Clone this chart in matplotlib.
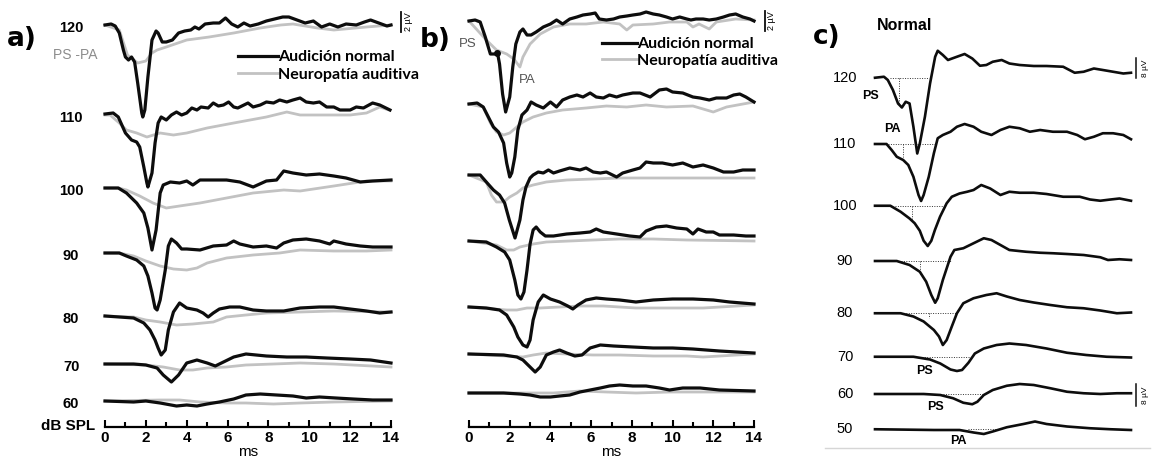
import matplotlib.pyplot as plt
import numpy as np

plt.rcParams['font.family'] = ['Liberation Sans', 'DejaVu Sans']

W, H = 1154, 457

levels_ab = [120, 110, 100, 90, 80, 70, 60]
levels_c = [120, 110, 100, 90, 80, 70, 60, 50]
ticks_ms = [0, 2, 4, 6, 8, 10, 12, 14]

# panel a) traces, (ms, uV) relative to baseline
a_norm_120 = [(0, 0), (0.3, 0.1), (0.5, -0.1), (0.7, -0.8), (0.9, -2.5), (1.0, -3.2), (1.15, -3.5), (1.3, -3.2), (1.45, -3.7),
              (1.6, -5.8), (1.8, -8.8), (1.85, -9.2), (1.95, -8.5), (2.1, -5.2), (2.3, -1.5), (2.5, -0.6), (2.6, -0.8),
              (2.8, -1.7), (3.0, -1.7), (3.3, -1.5), (3.6, -0.8), (3.9, -0.6), (4.2, -0.5), (4.4, -0.2), (4.6, -0.4),
              (4.9, 0.1), (5.3, 0.2), (5.6, 0.2), (5.9, 0.7), (6.2, 0.1), (6.5, -0.2), (6.8, 0.2), (7.1, -0.1), (7.5, 0.1),
              (7.9, 0.4), (8.3, 0.6), (8.7, 0.8), (9.0, 0.8), (9.4, 0.5), (9.8, 0.2), (10.2, 0.4), (10.6, -0.2), (11.0, 0.1),
              (11.4, -0.2), (11.8, 0.1), (12.3, 0.0), (12.7, 0.3), (13.0, 0.5), (13.4, 0.2), (13.8, -0.1), (14.0, 0.0)]
a_neuro_120 = [(0, 0), (0.7, -0.5), (1.1, -3.0), (1.6, -3.8), (2.0, -3.6), (2.3, -2.8), (2.55, -2.5), (3.0, -2.2), (4.0, -1.5),
               (5.1, -1.2), (6.3, -0.8), (7.6, -0.3), (8.6, 0.0), (9.2, 0.1), (10.4, -0.3), (11.2, -0.5), (12.8, -0.2), (14.0, 0.0)]
a_norm_110 = [(0, 0.1), (0.4, 0.2), (0.65, -0.2), (1.0, -1.8), (1.3, -2.5), (1.55, -2.7), (1.7, -3.2), (1.9, -5.2), (2.05, -6.8),
              (2.1, -7.2), (2.3, -5.8), (2.45, -2.8), (2.6, -0.8), (2.75, -0.2), (3.0, -0.5), (3.25, 0.0), (3.5, 0.3),
              (3.75, 0.0), (4.0, 0.2), (4.25, 0.7), (4.5, 0.5), (4.7, 0.8), (5.05, 0.7), (5.3, 1.2), (5.55, 0.9), (5.8, 1.0),
              (6.05, 1.3), (6.3, 0.8), (6.5, 0.7), (6.8, 1.0), (7.0, 1.2), (7.25, 0.8), (7.6, 1.0), (7.9, 1.3), (8.25, 1.2),
              (8.55, 1.5), (8.9, 1.3), (9.2, 1.5), (9.55, 1.7), (9.85, 1.3), (10.2, 1.2), (10.5, 1.3), (10.85, 0.8),
              (11.2, 0.8), (11.5, 0.5), (12.0, 0.5), (12.3, 0.8), (12.65, 0.7), (13.1, 1.2), (13.45, 1.0), (13.95, 0.5)]
a_neuro_110 = [(0, 0), (0.25, 0), (0.7, -0.8), (1.05, -1.5), (1.55, -1.8), (2.05, -2.2), (2.7, -1.8), (3.35, -2.0), (4.0, -1.8),
               (5.0, -1.3), (6.3, -0.8), (7.9, -0.2), (8.9, 0.3), (9.55, 0.0), (10.85, 0.0), (12.0, 0.0), (12.8, 0.2),
               (13.45, 0.8), (13.9, 0.5)]
a_norm_100 = [(0, 0), (0.65, 0), (1.05, -0.5), (1.55, -1.5), (1.9, -2.5), (2.1, -4.0), (2.3, -6.2), (2.5, -4.2), (2.7, -0.5),
              (2.85, 0.3), (3.2, 0.6), (3.65, 0.5), (4.0, 0.7), (4.3, 0.3), (4.65, 0.8), (5.3, 0.8), (5.95, 0.8), (6.6, 0.6),
              (7.25, 0.1), (7.9, 0.7), (8.4, 0.8), (8.75, 1.7), (9.2, 1.5), (9.85, 1.3), (10.5, 1.4), (11.2, 1.2),
              (11.8, 1.0), (12.5, 0.6), (13.1, 0.7), (14.0, 0.8)]
a_neuro_100 = [(0, 0), (0.65, 0), (1.05, -0.2), (1.7, -0.8), (2.35, -1.5), (3.0, -2.0), (3.65, -1.8), (4.65, -1.5), (5.95, -1.0),
               (7.25, -0.5), (8.75, -0.2), (9.55, -0.3), (11.2, 0.2), (12.8, 0.7), (14.0, 0.7)]
a_norm_90 = [(0, 0), (0.7, 0), (1.05, -0.3), (1.55, -0.7), (1.9, -1.3), (2.1, -2.3), (2.3, -4.0), (2.45, -5.5), (2.55, -5.7),
             (2.7, -4.7), (2.95, -1.7), (3.1, 0.7), (3.25, 1.4), (3.5, 1.0), (3.75, 0.4), (4.0, 0.4), (4.65, 0.3), (5.3, 0.7),
             (5.95, 0.8), (6.3, 1.2), (6.6, 0.9), (7.25, 0.6), (7.9, 0.7), (8.4, 0.5), (8.75, 1.0), (9.2, 1.3), (9.85, 1.4),
             (10.5, 1.2), (11.0, 0.9), (11.2, 1.2), (11.8, 0.9), (12.5, 0.7), (13.1, 0.6), (14.0, 0.6)]
a_neuro_90 = [(0, 0), (0.7, 0), (1.4, -0.3), (2.0, -0.8), (2.7, -1.3), (3.35, -1.6), (4.0, -1.7), (4.5, -1.5), (5.0, -1.0),
              (5.95, -0.5), (7.25, -0.2), (8.55, 0), (9.55, 0.3), (11.2, 0.2), (12.8, 0.2), (14.0, 0.3)]
a_norm_80 = [(0, 0), (0.7, -0.1), (1.4, -0.2), (1.9, -0.7), (2.2, -1.4), (2.45, -2.4), (2.6, -3.2), (2.75, -3.9), (2.95, -3.4),
             (3.1, -1.4), (3.35, 0.4), (3.65, 1.3), (4.0, 0.8), (4.5, 0.6), (4.8, 0.3), (5.05, -0.1), (5.3, 0.3), (5.6, 0.7),
             (6.1, 0.9), (6.6, 0.9), (7.25, 0.6), (7.9, 0.5), (8.75, 0.5), (9.55, 0.8), (10.5, 0.9), (11.2, 0.9),
             (12.0, 0.7), (12.8, 0.5), (13.45, 0.3), (14.0, 0.4)]
a_neuro_80 = [(0, 0), (1.4, -0.1), (2.0, -0.4), (2.7, -0.6), (3.5, -0.9), (4.3, -0.8), (5.3, -0.6), (5.95, -0.1), (6.9, 0.1),
              (7.9, 0.3), (9.55, 0.4), (11.2, 0.5), (14.0, 0.4)]
a_norm_70 = [(0, 0), (1.4, 0), (2.0, -0.1), (2.55, -0.4), (2.85, -1.1), (3.25, -1.8), (3.6, -1.1), (4.0, 0.1), (4.5, 0.4),
             (5.0, 0.1), (5.4, -0.2), (5.8, 0.2), (6.3, 0.7), (6.9, 1.0), (7.9, 0.8), (8.9, 0.7), (9.85, 0.7), (10.85, 0.6),
             (12.0, 0.5), (13.0, 0.4), (14.0, 0.1)]
a_neuro_70 = [(0, 0), (2.0, -0.1), (2.85, -0.3), (3.65, -0.6), (4.3, -0.6), (5.0, -0.4), (5.95, -0.3), (6.9, -0.1), (8.25, 0),
              (9.55, 0.1), (11.2, 0), (14.0, -0.3)]
a_norm_60 = [(0, 0), (1.4, -0.1), (2.0, 0), (2.7, -0.2), (3.5, -0.5), (4.0, -0.4), (4.5, -0.5), (5.0, -0.3), (5.6, -0.1),
             (6.3, 0.2), (6.9, 0.6), (7.6, 0.7), (8.4, 0.6), (9.2, 0.5), (9.85, 0.3), (10.5, 0.4), (11.3, 0.3), (12.15, 0.2),
             (13.1, 0.1), (14.0, 0.1)]
a_neuro_60 = [(0, 0), (2.7, 0.1), (3.65, 0.1), (4.65, -0.1), (5.95, -0.2), (6.9, -0.2), (8.25, -0.3), (9.55, -0.2),
              (11.2, -0.1), (14.0, 0)]

# panel b) traces
b_norm_120 = [(0, 0), (0.3, 0.1), (0.55, -0.1), (0.8, -1.6), (1.05, -3.3), (1.3, -3.3), (1.4, -3.2), (1.5, -4.3), (1.65, -7.3),
              (1.8, -9.1), (2.0, -7.6), (2.15, -4.6), (2.3, -2.3), (2.5, -1.1), (2.65, -0.8), (2.85, -1.4), (3.05, -1.4),
              (3.3, -1.1), (3.65, -0.6), (4.0, -0.3), (4.3, 0.1), (4.6, -0.3), (4.95, 0.2), (5.3, 0.4), (5.6, 0.6),
              (5.95, 0.7), (6.2, 0.8), (6.4, 0.2), (6.75, 0.1), (7.1, 0.2), (7.4, 0.4), (7.75, 0.5), (8.05, 0.6), (8.4, 0.7),
              (8.7, 0.9), (9.05, 0.7), (9.35, 0.6), (9.7, 0.4), (10.0, 0.2), (10.35, 0.4), (10.7, 0.2), (10.9, 0.1),
              (11.15, 0.2), (11.5, 0.2), (11.8, 0.1), (12.15, 0.2), (12.5, 0.4), (12.8, 0.6), (13.1, 0.7), (13.45, 0.4),
              (13.8, 0.2), (14.0, 0)]
b_neuro_120 = [(0, 0), (0.85, -1.9), (1.35, -2.9), (1.85, -3.3), (2.2, -3.8), (2.5, -4.6), (2.65, -3.6), (3.0, -2.3), (3.5, -1.3),
               (4.15, -0.6), (4.95, -0.3), (5.75, -0.3), (6.6, -0.1), (7.4, -0.3), (7.75, -0.9), (8.05, -0.4), (9.05, -0.3),
               (9.85, -0.1), (10.7, -0.1), (11.0, -0.6), (11.3, -0.3), (11.8, -0.8), (12.15, -0.1), (13.1, 0.2), (14.0, 0.1)]
b_norm_110 = [(0, 0), (0.4, 0.1), (0.7, -0.3), (0.95, -1.3), (1.2, -2.3), (1.45, -2.8), (1.7, -3.9), (1.85, -5.9), (2.0, -7.3),
              (2.1, -6.9), (2.25, -5.3), (2.4, -2.6), (2.6, -1.1), (2.85, -0.6), (3.05, 0.2), (3.3, -0.1), (3.65, -0.4),
              (4.0, 0.2), (4.3, -0.3), (4.6, 0.4), (4.95, 0.7), (5.3, 0.9), (5.6, 0.7), (5.95, 1.1), (6.25, 0.7), (6.6, 0.6),
              (6.9, 0.9), (7.25, 0.7), (7.55, 0.9), (8.05, 1.1), (8.4, 1.1), (8.9, 0.7), (9.35, 1.4), (9.7, 1.5), (10.0, 1.2),
              (10.5, 1.1), (11.0, 0.7), (11.35, 0.6), (11.8, 0.4), (12.15, 0.6), (12.65, 0.6), (13.0, 0.9), (13.3, 1.0),
              (13.6, 0.7), (14.0, 0.2)]
b_neuro_110 = [(0, 0), (0.7, -0.3), (1.05, -1.9), (1.35, -2.8), (1.7, -3.1), (2.0, -2.9), (2.35, -2.3), (2.65, -1.8),
               (3.15, -1.3), (3.8, -0.9), (4.6, -0.6), (5.75, -0.4), (6.75, -0.2), (7.75, -0.3), (8.7, -0.1), (9.7, -0.3),
               (11.0, -0.2), (12.0, -0.8), (12.65, -0.3), (14.0, 0.2)]
b_norm_100 = [(0, 0), (0.55, 0), (0.85, -0.7), (1.2, -1.5), (1.5, -2.0), (1.75, -2.8), (1.98, -4.5), (2.26, -6.3), (2.5, -4.5),
              (2.65, -2.5), (2.8, -1.2), (3.0, -0.3), (3.15, 0), (3.4, 0.3), (3.65, 0.2), (3.9, 0.5), (4.15, 0.2), (4.45, 0.4),
              (4.95, 0.7), (5.45, 0.5), (5.75, 0.7), (6.1, 0.3), (6.45, 0.2), (6.75, 0.3), (7.25, -0.2), (7.55, 0.2),
              (8.05, 0.5), (8.4, 0.7), (8.7, 1.3), (9.05, 1.2), (9.5, 1.2), (10.0, 1.0), (10.5, 1.2), (11.0, 0.8),
              (11.5, 1.0), (12.0, 0.7), (12.5, 0.3), (13.0, 0.3), (13.45, 0.5), (14.0, 0.5)]
b_neuro_100 = [(0, 0), (0.85, -0.7), (1.1, -2.0), (1.35, -2.7), (1.7, -2.7), (2.0, -2.2), (2.35, -1.8), (2.65, -1.3),
               (3.15, -1.0), (3.8, -0.7), (4.8, -0.5), (6.1, -0.4), (7.4, -0.3), (9.05, -0.3), (10.7, -0.3), (12.3, -0.3),
               (14.0, -0.3)]
b_norm_90 = [(0, 0), (0.85, -0.1), (1.35, -0.6), (1.75, -1.1), (2.0, -1.9), (2.25, -3.9), (2.4, -5.4), (2.55, -5.8), (2.7, -5.1),
             (2.85, -2.9), (3.0, -0.3), (3.15, 1.1), (3.3, 1.4), (3.5, 0.9), (3.75, 0.5), (4.15, 0.5), (4.8, 0.7), (5.45, 0.8),
             (5.95, 0.9), (6.25, 1.2), (6.6, 0.9), (7.25, 0.7), (7.9, 0.5), (8.4, 0.4), (8.7, 1.0), (9.2, 1.4), (9.7, 1.5),
             (10.2, 1.3), (10.7, 1.2), (11.0, 0.7), (11.25, 1.2), (11.65, 0.9), (12.0, 0.9), (12.3, 0.6), (13.0, 0.6),
             (13.6, 0.5), (14.0, 0.5)]
b_neuro_90 = [(0, 0), (1.35, -0.4), (1.85, -0.9), (2.2, -0.9), (2.5, -0.6), (3.15, -0.3), (3.8, -0.1), (4.95, 0), (6.1, 0.1),
              (7.4, 0.2), (9.05, 0.2), (10.7, 0.1), (14.0, 0)]
b_norm_80 = [(0, 0), (0.85, -0.1), (1.5, -0.3), (1.85, -0.8), (2.2, -2.0), (2.4, -3.0), (2.65, -3.8), (2.85, -4.0), (3.0, -3.3),
             (3.15, -1.3), (3.4, 0.5), (3.65, 1.2), (4.0, 0.8), (4.45, 0.5), (4.85, 0.1), (5.1, -0.2), (5.35, 0.2), (5.75, 0.7),
             (6.25, 0.9), (6.75, 0.8), (7.4, 0.7), (8.2, 0.5), (9.05, 0.7), (10.0, 0.8), (11.0, 0.8), (12.0, 0.7),
             (12.8, 0.5), (14.0, 0.3)]
b_neuro_80 = [(0, 0), (1.85, -0.3), (2.35, -0.3), (2.85, -0.1), (3.5, -0.1), (4.45, 0), (5.45, 0.1), (6.6, 0.1), (8.2, -0.1),
              (9.85, -0.1), (11.5, -0.1), (14.0, 0.2)]
b_norm_70 = [(0, 0), (1.7, -0.1), (2.35, -0.3), (2.65, -0.6), (3.0, -1.3), (3.25, -1.8), (3.5, -1.3), (3.8, -0.1), (4.15, 0.2),
             (4.45, 0.4), (4.8, 0.1), (5.2, -0.2), (5.55, -0.1), (5.95, 0.6), (6.45, 0.9), (7.1, 0.8), (8.05, 0.7),
             (9.05, 0.6), (10.0, 0.6), (11.0, 0.5), (12.3, 0.3), (14.0, 0.1)]
b_neuro_70 = [(0, 0), (2.65, -0.3), (3.15, -0.1), (3.8, 0.1), (4.8, 0), (6.1, -0.1), (7.4, -0.1), (9.05, -0.2), (10.7, -0.2),
              (11.5, -0.3), (14.0, 0)]
b_norm_60 = [(0, 0), (1.7, 0), (2.5, -0.1), (3.0, -0.2), (3.5, -0.4), (4.0, -0.4), (4.45, -0.3), (4.95, -0.2), (5.45, 0.1),
             (5.95, 0.3), (6.45, 0.5), (6.9, 0.7), (7.4, 0.8), (8.05, 0.7), (8.7, 0.7), (9.35, 0.5), (9.85, 0.3), (10.5, 0.5),
             (11.35, 0.5), (12.3, 0.3), (14.0, 0.2)]
b_neuro_60 = [(0, 0), (4.15, 0), (5.45, 0.2), (6.75, 0.1), (8.2, 0), (9.85, 0.1), (11.5, 0.1), (14.0, 0.1)]
b_ps_ms = 1.37

# panel c) normal hearing
c_120 = [(0, 0), (0.35, 0.4), (0.5, -0.9), (0.7, -4.9), (0.9, -10.3), (1.05, -11.9), (1.2, -9.6), (1.35, -10.3), (1.5, -19.6),
         (1.65, -30.3), (1.75, -26.3), (1.95, -15.6), (2.15, -2.3), (2.35, 8.4), (2.45, 10.8), (2.65, 9.1), (2.85, 7.1),
         (3.2, 8.4), (3.5, 9.5), (3.8, 7.7), (4.1, 4.8), (4.35, 5.1), (4.6, 6.4), (4.95, 7.1), (5.25, 5.7), (5.65, 5.1),
         (6.2, 4.7), (6.7, 4.7), (7.35, 4.4), (7.8, 2.0), (8.15, 2.4), (8.55, 3.7), (8.9, 3.1), (9.3, 2.4), (9.7, 1.7),
         (10.0, 2.0)]
c_110 = [(0, 0), (0.45, 0), (0.65, -2.4), (0.85, -5.1), (1.1, -6.4), (1.3, -8.4), (1.5, -13.1), (1.7, -20.4), (1.8, -22.8),
         (1.9, -20.4), (2.1, -13.1), (2.3, -3.7), (2.45, 2.3), (2.65, 3.6), (2.95, 4.9), (3.2, 6.9), (3.5, 8.0), (3.85, 6.9),
         (4.15, 4.9), (4.55, 3.6), (4.9, 5.6), (5.25, 6.9), (5.65, 6.3), (6.05, 4.9), (6.45, 5.6), (6.95, 4.9), (7.5, 4.9),
         (7.9, 3.6), (8.2, 1.9), (8.55, 2.9), (8.9, 4.3), (9.3, 4.3), (9.7, 3.6), (10.0, 1.9)]
c_100 = [(0, 0), (0.6, 0), (1.0, -2.4), (1.35, -5.1), (1.55, -7.0), (1.75, -10.0), (1.9, -14.0), (2.06, -16.1), (2.2, -14.0),
         (2.34, -9.7), (2.54, -4.4), (2.8, 1.0), (3.0, 3.6), (3.3, 4.9), (3.6, 5.6), (3.85, 6.3), (4.15, 8.3), (4.5, 6.9),
         (4.9, 4.3), (5.25, 5.6), (5.65, 5.2), (6.2, 5.2), (6.7, 4.7), (7.35, 3.6), (8.0, 3.6), (8.4, 2.5), (8.8, 2.0),
         (9.2, 2.5), (9.55, 2.9), (10.0, 2.0)]
c_90 = [(0, 0), (0.85, 0), (1.35, -1.6), (1.75, -4.3), (2.0, -8.3), (2.2, -13.6), (2.35, -16.7), (2.45, -14.9), (2.65, -7.6),
        (2.95, 1.7), (3.1, 4.4), (3.45, 5.1), (3.85, 7.1), (4.25, 9.1), (4.55, 8.4), (4.9, 6.4), (5.25, 4.4), (5.9, 3.7),
        (6.45, 3.3), (6.95, 3.1), (7.5, 2.8), (8.15, 2.4), (8.8, 1.5), (9.1, 0.4), (9.55, 0.7), (10.0, 0.4)]
c_80 = [(0, 0), (1.0, 0), (1.5, -1.3), (1.9, -3.3), (2.3, -6.7), (2.5, -9.3), (2.65, -12.7), (2.8, -10.7), (3.0, -5.3),
        (3.2, 0), (3.45, 4.0), (3.85, 6.0), (4.35, 7.3), (4.75, 8.0), (5.15, 6.7), (5.65, 5.3), (6.2, 4.3), (6.85, 3.3),
        (7.5, 2.4), (8.15, 2.0), (8.8, 1.1), (9.45, 0), (10.0, 0.3)]
c_70 = [(0, 0), (1.5, 0), (2.15, -1.1), (2.55, -2.7), (2.95, -5.1), (3.2, -5.7), (3.4, -5.3), (3.65, -2.4), (3.9, 1.3),
        (4.25, 3.3), (4.75, 4.7), (5.25, 5.3), (5.9, 4.7), (6.7, 3.3), (7.5, 1.6), (8.25, 0.7), (9.05, 0), (10.0, -0.3)]
c_60 = [(0, 0), (1.9, 0), (2.55, -0.4), (3.05, -1.7), (3.45, -3.5), (3.8, -4.1), (4.0, -3.1), (4.25, -0.4), (4.6, 1.6),
        (5.15, 3.3), (5.65, 4.0), (6.2, 3.6), (6.85, 2.3), (7.5, 0.9), (8.15, 0.3), (8.8, 0), (9.45, 0.3), (10.0, 0.3)]
c_50 = [(0, 0), (2.3, -0.3), (3.3, -0.3), (3.85, -1.3), (4.25, -1.9), (4.6, -0.9), (5.15, 0.8), (5.8, 2.1), (6.25, 3.1),
        (6.7, 2.1), (7.5, 1.1), (8.4, 0.4), (9.2, 0), (10.0, -0.3)]
# dotted latency lines (start, end) and amplitude marks (ms, uV)
c_lat = [(0.6, 2.1), (0.5, 2.4), (0.8, 2.65), (1.0, 3.0), (1.0, 3.2), (1.65, 3.8), (2.0, 4.25), (3.65, 4.75)]
c_amp = [(0.95, -10.3), (1.1, -5.1), (1.45, -6.0), (1.75, -5.3), (2.1, -2.0), None, None, None]

a_norm = [a_norm_120, a_norm_110, a_norm_100, a_norm_90, a_norm_80, a_norm_70, a_norm_60]
a_neuro = [a_neuro_120, a_neuro_110, a_neuro_100, a_neuro_90, a_neuro_80, a_neuro_70, a_neuro_60]
b_norm = [b_norm_120, b_norm_110, b_norm_100, b_norm_90, b_norm_80, b_norm_70, b_norm_60]
b_neuro = [b_neuro_120, b_neuro_110, b_neuro_100, b_neuro_90, b_neuro_80, b_neuro_70, b_neuro_60]
c_norm = [c_120, c_110, c_100, c_90, c_80, c_70, c_60, c_50]

# layout: baseline of every trace (uV below the top of the figure)
base_a = [-2.5, -11.5, -18.8, -25.3, -31.6, -36.4, -40.1]
base_b = [-2.1, -10.4, -17.5, -24.1, -30.7, -35.4, -39.3]
base_c = [-31.1, -57.6, -82.3, -104.4, -125.3, -142.7, -157.6, -171.7]

BLACK = '#0d0d0d'
GRAY = '#c2c2c2'
LEG_FONT = {'family': ['Lato', 'DejaVu Sans'], 'weight': 'bold', 'size': 11.5}

fig = plt.figure(figsize=(W / 100, H / 100), dpi=100)


def panel(x0, x1, xlim, px_per_uv):
    ax = fig.add_axes([x0 / W, 0, (x1 - x0) / W, 1])
    ax.set_xlim(xlim)
    ax.set_ylim(-H / px_per_uv, 0)
    ax.patch.set_visible(False)
    for s in ['top', 'right', 'left']:
        ax.spines[s].set_visible(False)
    ax.set_yticks([])
    return ax


def trace(ax, pts, base, **kw):
    t, v = np.array(pts).T
    return ax.plot(t, v + base, clip_on=False, solid_joinstyle='round', **kw)[0]


def time_axis(ax, y):
    ax.spines['bottom'].set_position(('data', y))
    ax.spines['bottom'].set_linewidth(1.6)
    ax.set_xticks(ticks_ms)
    ax.set_xticks(np.arange(1, 14, 2), minor=True)
    ax.tick_params(axis='x', which='both', direction='in', width=1.5, pad=3)
    ax.tick_params(axis='x', which='major', length=5, labelsize=11)
    ax.tick_params(axis='x', which='minor', length=3.5)
    for lab in ax.get_xticklabels():
        lab.set_fontweight('bold')
    ax.text(7, y - 2.5, 'ms', ha='center', va='center', fontsize=11)


# a)
ax = panel(105, 391, (0, 14), 10)
time_axis(ax, -42.7)
for pts, base in zip(a_neuro, base_a):
    hg = trace(ax, pts, base, color=GRAY, lw=2.0, zorder=2)
for pts, base in zip(a_norm, base_a):
    hb = trace(ax, pts, base, color=BLACK, lw=2.3, zorder=3)
for lev, base in zip(levels_ab, base_a):
    ax.text(-1.66, base - 0.3, str(lev), ha='center', va='center', fontsize=10.5, fontweight='bold')
ax.text(-1.79, -42.6, 'dB SPL', ha='center', va='center', fontsize=11, fontweight='bold')
ax.text(-4.06, -3.9, 'a)', ha='center', va='center', fontsize=19, fontweight='bold', family=['DejaVu Sans'])
ax.text(-1.44, -5.5, 'PS -PA', ha='center', va='center', fontsize=10, color='#8c8c8c')
ax.plot([14.5, 14.5], [-1.2, -3.2], color=BLACK, lw=1.3, clip_on=False)
ax.text(14.85, -2.2, '2 µV', rotation=90, ha='center', va='center', fontsize=6.5)
ax.legend([hb, hg], ['Audición normal', 'Neuropatía auditiva'], loc='upper left',
          bbox_to_anchor=(238 / W, 1 - 50 / H), bbox_transform=fig.transFigure, frameon=False,
          borderpad=0, borderaxespad=0, handlelength=2.5, handletextpad=0.0, labelspacing=0.2, prop=LEG_FONT)

# b)
ax = panel(469, 754, (0, 14), 10)
time_axis(ax, -42.7)
for pts, base in zip(b_neuro, base_b):
    hg = trace(ax, pts, base, color=GRAY, lw=2.0, zorder=2)
for pts, base in zip(b_norm, base_b):
    hb = trace(ax, pts, base, color=BLACK, lw=2.3, zorder=3)
t120, v120 = np.array(b_norm_120).T
ax.plot(b_ps_ms, np.interp(b_ps_ms, t120, v120) + base_b[0], 'o', color=BLACK, ms=4, zorder=4, clip_on=False)
ax.text(-1.67, -4.0, 'b)', ha='center', va='center', fontsize=19, fontweight='bold', family=['DejaVu Sans'])
ax.text(-0.05, -4.4, 'PS', ha='center', va='center', fontsize=9.5, color='#555555')
ax.text(2.85, -8.0, 'PA', ha='center', va='center', fontsize=9.5, color='#555555')
ax.plot([14.53, 14.53], [-1.1, -3.1], color=BLACK, lw=1.3, clip_on=False)
ax.text(14.88, -2.1, '2 µV', rotation=90, ha='center', va='center', fontsize=6.5)
ax.legend([hb, hg], ['Audición normal', 'Neuropatía auditiva'], loc='upper left',
          bbox_to_anchor=(602 / W, 1 - 37 / H), bbox_transform=fig.transFigure, frameon=False,
          borderpad=0, borderaxespad=0, handlelength=2.2, handletextpad=0.0, labelspacing=0.15, prop=LEG_FONT)

# c)
ax = panel(875, 1131, (0, 10), 2.5)
ax.spines['bottom'].set_visible(False)
ax.set_xticks([])
for pts, base, lat, amp in zip(c_norm, base_c, c_lat, c_amp):
    trace(ax, pts, base, color=BLACK, lw=1.9, zorder=3)
    ax.plot(lat, [base, base], ls=(0, (1, 1.5)), color='#333333', lw=0.7, zorder=2)
    if amp:
        ax.plot([amp[0], amp[0]], [base, base + amp[1]], ls=(0, (1, 1.5)), color='#333333', lw=0.7, zorder=2)
for lev, base in zip(levels_c, base_c):
    ax.text(-1.17, base, str(lev), ha='center', va='center', fontsize=10.5)
for txt, x, y in [('PS', -0.16, -38.4), ('PA', 0.66, -51.6), ('PS', 1.95, -148.4), ('PS', 2.38, -162.8), ('PA', 3.24, -176.4)]:
    ax.text(x, y, txt, ha='center', va='center', fontsize=9, fontweight='bold')
ax.text(0.08, -10.4, 'Normal', ha='left', va='center', fontsize=11.5, fontweight='bold')
ax.text(-1.88, -14.8, 'c)', ha='center', va='center', fontsize=19, fontweight='bold', family=['DejaVu Sans'])
ax.plot([10.2, 10.2], [-23.2, -31.2], color=BLACK, lw=1.1, clip_on=False)
ax.text(10.55, -27.2, '8 µV', rotation=90, ha='center', va='center', fontsize=6)
ax.plot([10.2, 10.2], [-153.6, -162.4], color=BLACK, lw=1.1, clip_on=False)
ax.text(10.55, -158.0, '8 µV', rotation=90, ha='center', va='center', fontsize=6)
ax.plot([-1.95, 10.74], [-179.1, -179.1], color='#d6d6d6', lw=1.0, clip_on=False)

fig.savefig('out.png', dpi=100)
